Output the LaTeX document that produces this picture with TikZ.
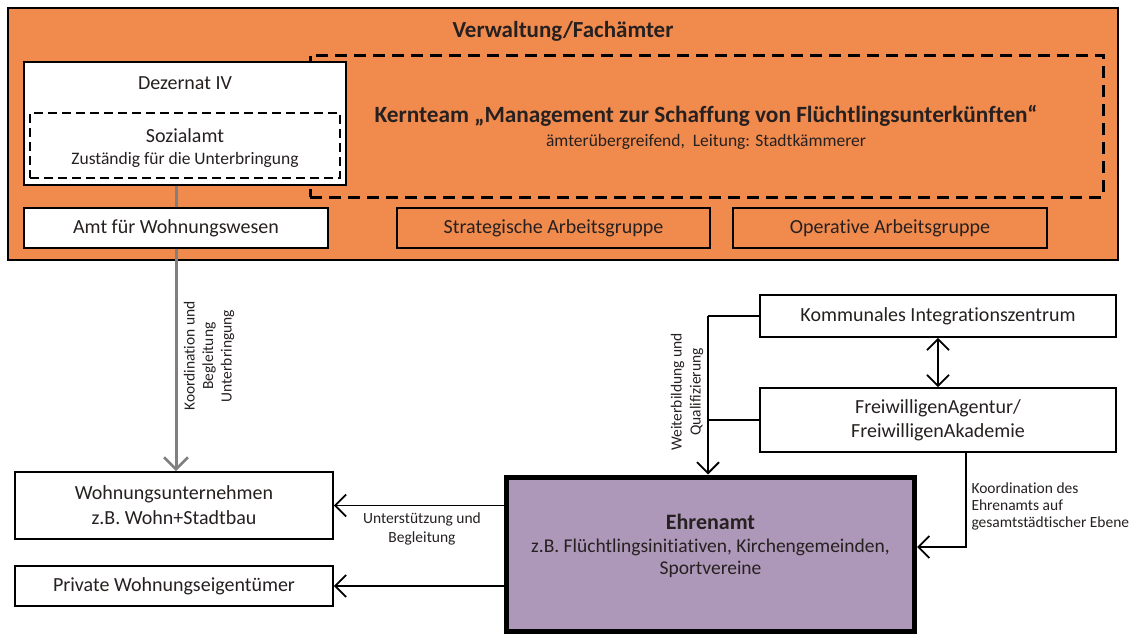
\documentclass[tikz,border=0pt]{standalone}
\usepackage{fontspec}
\setmainfont{Carlito}[Ligatures=CommonOff]
\usetikzlibrary{arrows.meta}
\definecolor{amtorange}{RGB}{241,139,77}
\definecolor{ehrpurple}{RGB}{174,152,185}
\definecolor{inkdark}{RGB}{38,32,32}
\definecolor{linegrey}{RGB}{128,128,128}
\newcommand{\fsz}[2]{\fontsize{#1}{#2}\selectfont}
\tikzset{
  box/.style={draw=black, line width=1.8pt, fill=white, inner sep=0pt, align=center},
  orangebox/.style={draw=black, line width=1.8pt, fill=amtorange, inner sep=0pt, align=center},
  kerndash/.style={draw=black, line width=3pt, dash pattern=on 12pt off 7pt, inner sep=0pt},
  sozdash/.style={draw=black, line width=2.4pt, dash pattern=on 9pt off 5pt, inner sep=0pt, align=center},
  conn/.style={draw=black, line width=1.8pt},
  greyline/.style={draw=linegrey, line width=3pt},
  barb/.style={-{Straight Barb[length=11pt,width=22pt,line width=1.8pt]}},
  greybarb/.style={-{Straight Barb[length=12pt,width=24pt,line width=2.6pt]}},
  lbl/.style={align=center, font=\fsz{15.5}{19}},
}
\begin{document}
\begin{tikzpicture}[x=1pt, y=-1pt, font=\fsz{20}{23}, text=inkdark]
\useasboundingbox (0,0) rectangle (1136,635);

% administration block
\node[orangebox, minimum width=1110pt, minimum height=252pt] (verw) at (563,134) {};
\node[font=\bfseries\fsz{23}{28}] (verwtitle) at (563,31) {Verwaltung/Fachämter};

% core team (dashed)
\node[kerndash, minimum width=793pt, minimum height=142pt] (kern) at (706.5,126) {};
\node[font=\bfseries\fsz{23.3}{28}] (kerntitle) at (706,116) {Kernteam „Management zur Schaffung von Flüchtlingsunterkünften“};
\node[font=\fsz{17.5}{21}] (kernsub) at (706,142) {ämterübergreifend,\ \ Leitung: Stadtkämmerer};

% department IV with social office
\node[box, minimum width=322pt, minimum height=123pt] (dez) at (185,123.5) {};
\node (deztext) at (185,83) {Dezernat IV};
\node[sozdash, minimum width=310pt, minimum height=65pt] (soz) at (185,145.5) {};
\node[align=center, font=\fsz{20}{22}] (soztext) at (185,148)
  {Sozialamt\\{\fsz{17.5}{22}Zuständig für die Unterbringung}};

% working groups
\node[box, minimum width=304pt, minimum height=40pt] (amt) at (176,228) {Amt für Wohnungswesen};
\node[orangebox, minimum width=313pt, minimum height=40pt] (strat) at (553.5,228) {Strategische Arbeitsgruppe};
\node[orangebox, minimum width=314pt, minimum height=40pt] (oper) at (890,228) {Operative Arbeitsgruppe};

% lower nodes
\node[box, minimum width=318pt, minimum height=67pt, font=\fsz{20}{25}] (wu) at (174,505.5) {Wohnungsunternehmen\\z.B. Wohn+Stadtbau};
\node[box, minimum width=318pt, minimum height=40pt] (priv) at (174,586) {Private Wohnungseigentümer};
\node[box, minimum width=356pt, minimum height=42pt] (kom) at (938,316) {Kommunales Integrationszentrum};
\node[box, minimum width=356pt, minimum height=64pt, font=\fsz{20}{24}] (frei) at (938,420) {FreiwilligenAgentur/\\FreiwilligenAkademie};
\node[box, fill=ehrpurple, line width=5pt, minimum width=408pt, minimum height=154pt] (ehr) at (710.5,554) {};
\node[align=center, font=\fsz{19.5}{22.5}] (ehrtext) at (710.5,546)
  {{\bfseries\fsz{22}{24}Ehrenamt}\\z.B. Flüchtlingsinitiativen, Kirchengemeinden,\\Sportvereine};

% housing coordination
\draw[greyline] (dez.south -| amt.north) -- (amt.north);
\draw[greyline, greybarb] (amt.south) -- (amt.south |- wu.north);
\node[rotate=90, lbl, font=\fsz{15.5}{18.5}] (koordlbl) at (209,356) {Koordination und\\Begleitung\\Unterbringung};

% training and qualification
\coordinate (wx) at (708,0);
\draw[conn] (kom.west) -- (kom.west -| wx);
\draw[conn] (frei.west) -- (frei.west -| wx);
\draw[conn, barb] (kom.west -| wx) -- (ehr.north -| wx);
\node[rotate=90, lbl] (weilbl) at (687,392) {Weiterbildung und\\Qualifizierung};

% integration centre <-> volunteer agency
\draw[conn, {Straight Barb[length=11pt,width=22pt,line width=1.8pt]}-{Straight Barb[length=11pt,width=22pt,line width=1.8pt]}] (kom.south) -- (frei.north);

% city-wide coordination
\coordinate (kx) at (966,0);
\coordinate (ky) at (0,547);
\draw[conn, barb] (frei.south -| kx) |- (ehr.east |- ky);
\node[align=left, anchor=north west, font=\fsz{15.5}{17}] (koordehr) at (968,479) {Koordination des\\Ehrenamts auf\\gesamtstädtischer Ebene};

% support for housing providers
\draw[conn, barb] (ehr.west |- wu.east) -- (wu.east);
\draw[conn, barb] (ehr.west |- priv.east) -- (priv.east);
\node[lbl] (unterlbl) at (422,529) {Unterstützung und\\Begleitung};
\end{tikzpicture}
\end{document}
